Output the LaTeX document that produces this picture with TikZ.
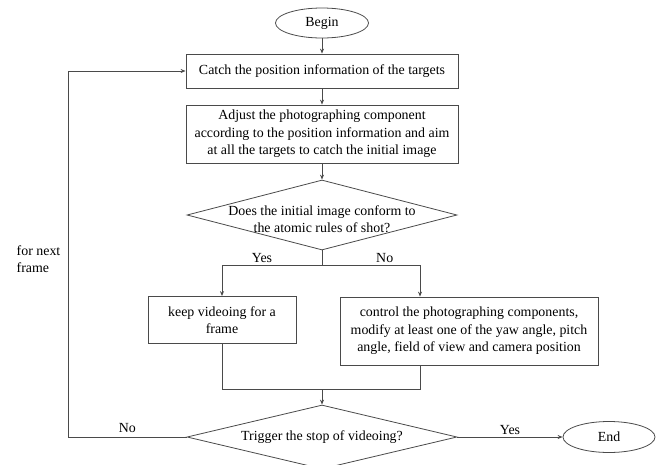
\documentclass[tikz,border=0pt]{standalone}
\usepackage{fontspec}
\setmainfont{Liberation Serif}
\usetikzlibrary{arrows.meta,positioning,shapes.geometric}
\definecolor{flowline}{HTML}{4A4A4A}
\newcommand{\flowfont}{\fontsize{13.9}{17.5}\selectfont}
\tikzset{
  procbox/.style={draw=flowline, line width=0.8pt, inner sep=0pt, align=center, font=\flowfont},
  termnode/.style={ellipse, draw=flowline, line width=0.8pt, inner sep=0pt, font=\flowfont},
  decnode/.style={diamond, draw=flowline, line width=0.8pt, inner sep=0pt},
  lbl/.style={font=\flowfont, inner sep=1.5pt},
  ln/.style={line width=0.8pt, draw=flowline},
  arr/.style={-{Stealth[length=5pt,width=4pt]}, line width=0.8pt, draw=flowline}}

\begin{document}
\begin{tikzpicture}[x=1pt, y=-1pt]
    \useasboundingbox (0,0) rectangle (659,464);
    \node[termnode, minimum width=93pt, minimum height=30pt] (begin) at (322,23) {Begin};
    \node[procbox, minimum width=272pt, minimum height=34pt] (catch) at (322,71)
      {Catch the position information of the targets};
    \node[procbox, minimum width=272pt, minimum height=58pt] (adjust) at (322,134)
      {Adjust the photographing component\\
       according to the position information and aim\\
       at all the targets to catch the initial image};
    \node[decnode, minimum width=270pt, minimum height=70pt] (conform) at (322,215) {};
    \node[lbl, align=center] (conformtxt) at (322,219)
      {Does the initial image conform to\\the atomic rules of shot?};
    \coordinate (split) at (322,265);
    \coordinate (rbranch) at (420,265);
    \node[procbox, minimum width=148pt, minimum height=47pt] (keep) at (222,320)
      {keep videoing for a\\frame};
    \node[procbox, minimum width=258pt, minimum height=68pt] (control) at (469,331)
      {control the photographing components,\\
       modify at least one of the yaw angle, pitch\\
       angle, field of view and camera position};
    \coordinate (merge) at (322,389);
    \coordinate (rjoin) at (420,389);
    \node[decnode, minimum width=270pt, minimum height=64pt] (stop) at (322,437) {};
    \node[lbl] (stoptxt) at (stop) {Trigger the stop of videoing?};
    \node[termnode, minimum width=92pt, minimum height=31pt] (end) at (609,437) {End};
    \coordinate (loop) at (68,437);
    \node[lbl, align=left, anchor=west] (nextlbl) at (15,259) {for next\\frame};

    \draw[arr] (begin) -- (catch);
    \draw[arr] (catch) -- (adjust);
    \draw[arr] (adjust) -- (conform.north);
    \draw[ln] (conform.south) -- (split);
    \draw[arr] (split) -| node[lbl, pos=0.3, above] {Yes} (keep.north);
    \draw[arr] (split) -- node[lbl, pos=0.64, above] {No} (rbranch) -- (rbranch |- control.north);
    \draw[ln] (rbranch |- control.south) -- (rjoin) -- (keep.south |- rjoin) -- (keep.south);
    \draw[arr] (merge) -- (stop.north);
    \draw[arr] (stop.east) -- node[lbl, above] {Yes} (end.west);
    \draw[arr] (stop.west) -- node[lbl, above=2pt] {No} (loop) |- (catch.west);
  \end{tikzpicture}
\end{document}
